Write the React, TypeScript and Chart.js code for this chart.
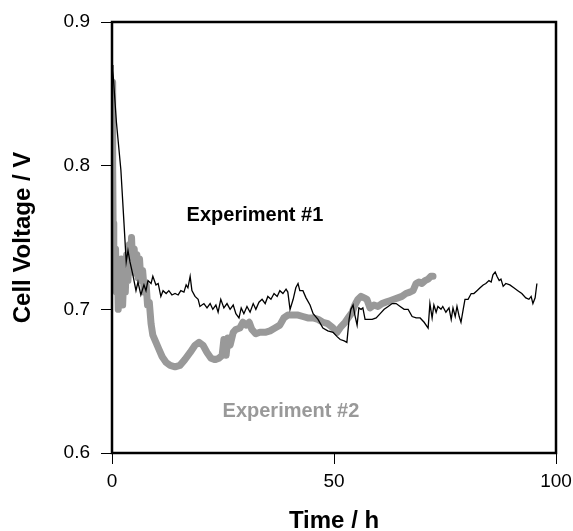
import React, { useEffect, useRef } from "react";
import { Chart, registerables } from "chart.js";

Chart.register(...registerables);

// Experiment #1: [time (h), cell voltage (V)]
const experiment1: [number, number][] = [
  [0, 0.870], [0.2, 0.866], [1.0, 0.830], [2.0, 0.797], [2.7, 0.760], [3.2, 0.733],
  [3.6, 0.741], [4.05, 0.733], [4.7, 0.724], [5.4, 0.713], [5.85, 0.719], [6.5, 0.710],
  [7.2, 0.717], [7.65, 0.713], [8.1, 0.720], [8.8, 0.718], [9.2, 0.723], [9.9, 0.717],
  [10.4, 0.718], [11.0, 0.709], [11.5, 0.713], [12.2, 0.711], [12.8, 0.713], [13.5, 0.710],
  [14.2, 0.711], [14.9, 0.710], [15.5, 0.713], [16.2, 0.712], [16.7, 0.717], [17.1, 0.715],
  [17.6, 0.723], [18.0, 0.713], [18.7, 0.709], [19.4, 0.707], [19.8, 0.702], [20.7, 0.704],
  [21.4, 0.701], [22.1, 0.704], [22.7, 0.700], [23.4, 0.703], [23.9, 0.698], [24.5, 0.707],
  [25.2, 0.701], [25.9, 0.704], [26.6, 0.700], [27.3, 0.703], [27.9, 0.697], [28.6, 0.694],
  [29.1, 0.701], [29.7, 0.697], [30.4, 0.702], [31.1, 0.698], [31.8, 0.704], [32.4, 0.700],
  [33.1, 0.705], [33.8, 0.707], [34.5, 0.704], [35.1, 0.709], [35.8, 0.707], [36.5, 0.711],
  [37.2, 0.709], [37.8, 0.713], [38.5, 0.711], [39.2, 0.714], [39.6, 0.712], [40.1, 0.700],
  [40.8, 0.707], [41.4, 0.715], [41.9, 0.718], [42.3, 0.713], [43.0, 0.713], [43.7, 0.708],
  [44.6, 0.703], [45.3, 0.697], [46.4, 0.693], [47.5, 0.687], [48.6, 0.685], [49.8, 0.684],
  [50.7, 0.681], [51.4, 0.679], [52.3, 0.678], [52.9, 0.677], [53.4, 0.693], [53.8, 0.700],
  [54.3, 0.703], [54.7, 0.696], [55.2, 0.689], [55.6, 0.701], [56.1, 0.700], [56.5, 0.701],
  [57.0, 0.693], [57.7, 0.693], [58.6, 0.693], [59.5, 0.694], [60.4, 0.697], [61.3, 0.700],
  [62.2, 0.702], [63.1, 0.704], [64.0, 0.704], [64.9, 0.702], [65.8, 0.700], [66.7, 0.700],
  [67.6, 0.695], [68.5, 0.694], [69.4, 0.694], [70.3, 0.691], [71.2, 0.687], [71.6, 0.704],
  [72.1, 0.694], [72.5, 0.703], [73.0, 0.698], [73.4, 0.702], [74.1, 0.700], [74.5, 0.702],
  [75.2, 0.698], [75.9, 0.701], [76.4, 0.693], [76.8, 0.701], [77.3, 0.695], [77.7, 0.702],
  [78.2, 0.695], [78.6, 0.691], [79.1, 0.700], [79.5, 0.707], [80.2, 0.707], [80.9, 0.711],
  [81.5, 0.711], [82.2, 0.713], [82.9, 0.715], [83.6, 0.717], [84.2, 0.718], [84.9, 0.720],
  [85.4, 0.719], [85.8, 0.724], [86.3, 0.726], [86.7, 0.723], [87.2, 0.720], [87.6, 0.721],
  [88.1, 0.716], [88.7, 0.718], [89.6, 0.717], [90.5, 0.715], [91.4, 0.713], [92.3, 0.711],
  [93.2, 0.708], [93.9, 0.707], [94.4, 0.709], [94.8, 0.704], [95.3, 0.708], [95.7, 0.718],
];

// Experiment #2: [time (h), cell voltage (V)]
const experiment2: [number, number][] = [
  [0, 0.858], [0.15, 0.800], [0.25, 0.760], [0.4, 0.735], [0.6, 0.718], [0.8, 0.742],
  [1.0, 0.712], [1.2, 0.735], [1.4, 0.700], [1.6, 0.725], [1.9, 0.708], [2.1, 0.735],
  [2.4, 0.703], [2.7, 0.728], [3.0, 0.712], [3.3, 0.738], [3.6, 0.720], [3.9, 0.745],
  [4.2, 0.728], [4.4, 0.750], [4.7, 0.726], [5.0, 0.742], [5.3, 0.725], [5.6, 0.738],
  [5.9, 0.722], [6.2, 0.735], [6.5, 0.720], [6.9, 0.727], [7.3, 0.712], [7.7, 0.717],
  [8.0, 0.703], [8.4, 0.705], [8.8, 0.690], [9.2, 0.682], [9.9, 0.677], [10.6, 0.672],
  [11.3, 0.667], [12.2, 0.663], [13.1, 0.661], [14.2, 0.660], [15.3, 0.661], [16.4, 0.665],
  [17.6, 0.670], [18.7, 0.675], [19.6, 0.677], [20.5, 0.675], [21.4, 0.670], [22.3, 0.666],
  [23.2, 0.665], [24.1, 0.666], [24.8, 0.668], [25.2, 0.679], [25.7, 0.668], [26.1, 0.680],
  [26.6, 0.675], [27.3, 0.684], [27.9, 0.686], [28.8, 0.687], [29.5, 0.691], [30.2, 0.689],
  [30.9, 0.691], [31.5, 0.686], [32.4, 0.683], [33.3, 0.684], [34.5, 0.684], [35.6, 0.685],
  [36.7, 0.687], [37.8, 0.689], [38.7, 0.694], [39.6, 0.696], [40.8, 0.696], [41.9, 0.696],
  [43.0, 0.695], [44.1, 0.694], [45.3, 0.694], [46.4, 0.693], [47.5, 0.691], [48.6, 0.690],
  [49.8, 0.687], [50.7, 0.684], [51.6, 0.688], [52.5, 0.691], [53.4, 0.695], [54.1, 0.698],
  [54.7, 0.703], [55.4, 0.707], [56.1, 0.709], [56.8, 0.708], [57.4, 0.707], [58.1, 0.701],
  [59.0, 0.703], [59.9, 0.702], [60.8, 0.704], [61.7, 0.705], [62.6, 0.706], [63.5, 0.707],
  [64.4, 0.708], [65.3, 0.709], [66.2, 0.711], [67.1, 0.712], [67.8, 0.713], [68.5, 0.718],
  [69.1, 0.719], [69.8, 0.718], [70.5, 0.720], [71.2, 0.721], [71.8, 0.723], [72.3, 0.723],
];

const xTickValues = [0, 50, 100];
const yTickValues = [0.6, 0.7, 0.8, 0.9];

const seriesLabels = ["Experiment #1", "Experiment #2"];
const seriesColors = ["#000000", "#999999"];
// label anchors in data coordinates [time, voltage]
const labelAnchors: [number, number][] = [
  [32.2, 0.765],
  [40.3, 0.629],
];

const FONT = '"Liberation Sans", Arial, Helvetica, sans-serif';

const framePlugin = {
  id: "frameAndLabels",
  afterDatasetsDraw(chart: any) {
    const { ctx, chartArea, scales } = chart;
    const { left, top, right, bottom } = chartArea;
    ctx.save();
    ctx.strokeStyle = "#000";
    ctx.lineWidth = 2.5;
    ctx.strokeRect(left, top, right - left, bottom - top);
    ctx.font = `bold 20px ${FONT}`;
    ctx.textAlign = "center";
    ctx.textBaseline = "middle";
    seriesLabels.forEach((text, i) => {
      const [tx, ty] = labelAnchors[i];
      ctx.fillStyle = seriesColors[i];
      ctx.fillText(text, scales.x.getPixelForValue(tx), scales.y.getPixelForValue(ty));
    });
    ctx.restore();
  },
};

export default function App() {
  const canvasRef = useRef<HTMLCanvasElement | null>(null);

  useEffect(() => {
    const canvas = canvasRef.current;
    if (!canvas) return;
    const chart = new Chart(canvas, {
      type: "line",
      data: {
        datasets: [
          {
            label: seriesLabels[0],
            data: experiment1.map(([x, y]) => ({ x, y })),
            borderColor: seriesColors[0],
            borderWidth: 1.3,
            pointRadius: 0,
            tension: 0,
            fill: false,
            order: 0,
          },
          {
            label: seriesLabels[1],
            data: experiment2.map(([x, y]) => ({ x, y })),
            borderColor: seriesColors[1],
            borderWidth: 7,
            borderJoinStyle: "round",
            borderCapStyle: "round",
            pointRadius: 0,
            tension: 0,
            fill: false,
            order: 1,
          },
        ],
      },
      options: {
        responsive: false,
        animation: false,
        layout: { padding: { top: 22, right: 17, left: 0, bottom: 0 } },
        plugins: {
          legend: { display: false },
          tooltip: { enabled: false },
        },
        scales: {
          x: {
            type: "linear",
            min: 0,
            max: 100,
            afterFit: (scale: any) => {
              scale.height = 78;
              scale.paddingLeft = 0;
              scale.paddingRight = 0;
            },
            afterBuildTicks: (scale: any) => {
              scale.ticks = xTickValues.map((v) => ({ value: v }));
            },
            border: { display: false },
            grid: {
              display: true,
              drawOnChartArea: false,
              drawTicks: true,
              tickLength: 11,
              color: "#000",
              lineWidth: 1,
            },
            ticks: {
              color: "#000",
              font: { family: FONT, size: 19 },
              padding: 6,
              maxRotation: 0,
              autoSkip: false,
              callback: (v: any) => String(v),
            },
            title: {
              display: true,
              text: "Time / h",
              color: "#000",
              font: { family: FONT, size: 24, weight: "bold", lineHeight: 0.8 },
              padding: { top: 0, bottom: 0 },
            },
          },
          y: {
            type: "linear",
            min: 0.6,
            max: 0.9,
            afterFit: (scale: any) => {
              scale.width = 112;
              scale.paddingTop = 0;
              scale.paddingBottom = 0;
            },
            afterBuildTicks: (scale: any) => {
              scale.ticks = yTickValues.map((v) => ({ value: v }));
            },
            border: { display: false },
            grid: {
              display: true,
              drawOnChartArea: false,
              drawTicks: true,
              tickLength: 11,
              color: "#000",
              lineWidth: 1,
            },
            ticks: {
              color: "#000",
              font: { family: FONT, size: 19 },
              padding: 11,
              autoSkip: false,
              callback: (v: any) => Number(v).toFixed(1),
            },
            title: {
              display: true,
              text: "Cell Voltage / V",
              color: "#000",
              font: { family: FONT, size: 24, weight: "bold", lineHeight: 1 },
              padding: { top: 11, bottom: 0 },
            },
          },
        },
      },
      plugins: [framePlugin],
    } as any);
    return () => chart.destroy();
  }, []);

  return (
    <div style={{ position: "absolute", left: 0, top: 0, width: 573, height: 531, background: "#fff" }}>
      <canvas ref={canvasRef} width={573} height={531} style={{ display: "block" }} />
    </div>
  );
}
